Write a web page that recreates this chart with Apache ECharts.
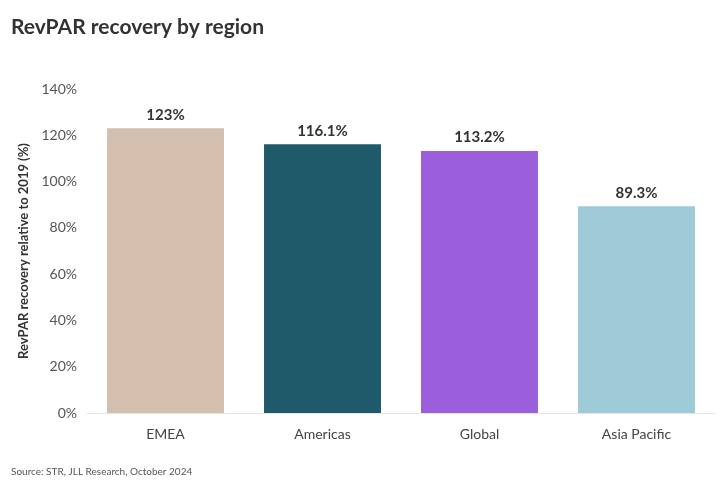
<!DOCTYPE html>
<html><head><meta charset="utf-8">
<script src="https://cdn.jsdelivr.net/npm/echarts@6/dist/echarts.min.js"></script>
<style>html,body{margin:0;padding:0;background:#fff}#c{width:720px;height:480px}</style>
</head><body><div id="c"></div>
<script>
const categories = ['EMEA', 'Americas', 'Global', 'Asia Pacific'];
const values = [123, 116.1, 113.2, 89.3];
const valueLabels = ['123%', '116.1%', '113.2%', '89.3%'];
const colors = ['#d4bfae', '#1f5a6b', '#9b5fdc', '#9fcad8'];
const F = 'Lato, "Open Sans", sans-serif';
const chart = echarts.init(document.getElementById('c'));
chart.setOption({
  animation: false,
  backgroundColor: '#fff',
  title: [{
    text: 'RevPAR recovery by region', left: 6, top: 12,
    textStyle: {fontFamily: F, fontSize: 21, fontWeight: 'bold', color: '#333'}
  }, {
    text: 'Source: STR, JLL Research, October 2024', left: 6, top: 462,
    textStyle: {fontFamily: F, fontSize: 10, fontWeight: 'normal', color: '#555'}
  }],
  grid: {left: 87, right: 5, top: 89, bottom: 67},
  xAxis: {
    type: 'category', data: categories,
    axisTick: {show: false},
    axisLine: {lineStyle: {color: '#e6e6e6'}},
    axisLabel: {fontFamily: F, fontSize: 14, color: '#444', margin: 14}
  },
  yAxis: {
    type: 'value', min: 0, max: 140, interval: 20,
    name: 'RevPAR recovery relative to 2019 (%)', nameLocation: 'middle', nameGap: 57,
    nameTextStyle: {fontFamily: F, fontSize: 13, fontWeight: 'bold', color: '#333'},
    splitLine: {show: false},
    axisLabel: {fontFamily: F, fontSize: 14, color: '#555', formatter: '{value}%', margin: 10}
  },
  series: [{
    type: 'bar', barWidth: '74.5%',
    data: values.map((v, i) => ({value: v, itemStyle: {color: colors[i]}})),
    label: {
      show: true, position: 'top', distance: 6,
      fontFamily: F, fontSize: 15, fontWeight: 'bold', color: '#333',
      formatter: p => valueLabels[p.dataIndex]
    }
  }]
});
</script></body></html>
